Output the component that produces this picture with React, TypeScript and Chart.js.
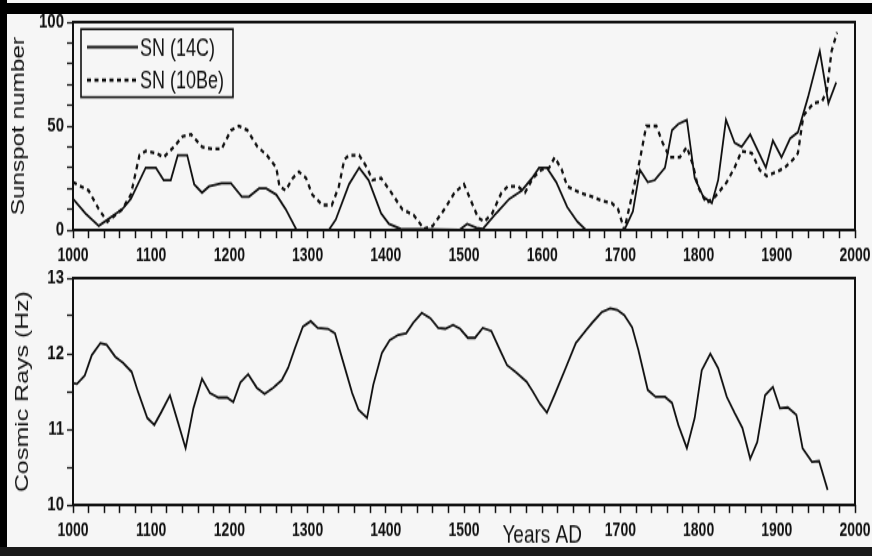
import React, { useEffect, useRef } from 'react';
import { Chart, registerables } from 'chart.js';

Chart.register(...registerables);

// ---------- data ----------
const sn14cYears = [1000, 1016, 1033, 1063, 1074, 1093, 1106, 1116, 1125, 1134, 1146, 1155, 1165, 1174, 1190, 1202, 1216, 1225, 1238, 1247, 1260, 1272, 1286, 1327, 1336, 1353, 1366, 1378, 1394, 1404, 1419, 1494, 1504, 1516, 1524, 1541, 1558, 1574, 1587, 1596, 1606, 1618, 1632, 1645, 1656, 1705, 1716, 1725, 1735, 1744, 1757, 1766, 1774, 1785, 1795, 1806, 1817, 1825, 1835, 1846, 1855, 1866, 1876, 1886, 1895, 1906, 1917, 1927, 1940, 1955, 1966, 1976];
const sn14cValues = [15, 8, 2, 10, 15, 30, 30, 24, 24, 36, 36, 22, 18, 21, 22.5, 22.5, 16, 16, 20, 20, 17, 10, 0, 0, 5, 22, 30, 24, 8, 3, 0.5, 0, 3, 1, 0.5, 8, 15, 19, 25, 30, 30, 23, 11, 4, 0, 0, 9, 29, 23, 24, 30, 48, 51, 53, 25, 16, 13, 24, 53, 42, 40, 46, 38, 30, 43, 35, 44, 47, 64, 86, 61, 71];

const sn10beYears = [1000, 1020, 1033, 1044, 1063, 1074, 1085, 1093, 1106, 1116, 1129, 1140, 1151, 1165, 1178, 1190, 1202, 1212, 1223, 1236, 1248, 1260, 1264, 1272, 1281, 1289, 1298, 1306, 1319, 1331, 1340, 1347, 1353, 1366, 1376, 1383, 1394, 1407, 1421, 1436, 1449, 1460, 1475, 1488, 1500, 1509, 1518, 1526, 1536, 1548, 1556, 1569, 1578, 1588, 1599, 1609, 1616, 1625, 1632, 1648, 1664, 1677, 1689, 1697, 1705, 1725, 1733, 1746, 1754, 1763, 1776, 1785, 1793, 1799, 1810, 1821, 1836, 1846, 1855, 1868, 1878, 1887, 1900, 1910, 1921, 1927, 1934, 1947, 1958, 1964, 1970, 1977];
const sn10beValues = [23, 19, 10, 4, 10, 17, 36, 38, 37, 35, 40, 45, 46, 40, 39, 39, 48, 50, 48, 40, 36, 30, 21, 19, 25, 28, 25, 17, 12, 12, 21, 34, 36, 36, 30, 24, 25, 18, 10, 7, 0.5, 2, 10, 18, 22, 14, 6, 4, 8, 18, 21, 21, 18, 25, 29, 30, 35, 29, 21, 18, 16, 14, 13, 10, 0, 34, 50, 50, 42, 35, 35, 40, 31, 21, 13, 16, 23, 30, 38, 37, 29, 26, 28, 30, 34, 37, 55, 61, 62, 67, 86, 95];

const crYears = [1000, 1005, 1015, 1024, 1035, 1043, 1054, 1064, 1075, 1083, 1095, 1104, 1113, 1124, 1134, 1144, 1154, 1165, 1175, 1186, 1197, 1205, 1214, 1224, 1235, 1245, 1256, 1267, 1275, 1284, 1294, 1304, 1313, 1326, 1335, 1343, 1357, 1365, 1376, 1384, 1395, 1405, 1416, 1426, 1435, 1446, 1457, 1467, 1476, 1486, 1495, 1505, 1514, 1524, 1535, 1546, 1555, 1567, 1580, 1588, 1597, 1606, 1616, 1630, 1643, 1656, 1664, 1676, 1687, 1696, 1705, 1715, 1723, 1735, 1745, 1757, 1766, 1774, 1785, 1795, 1804, 1815, 1825, 1836, 1846, 1856, 1866, 1875, 1885, 1895, 1904, 1914, 1925, 1933, 1945, 1954, 1965];
const crValues = [11.61, 11.6, 11.71, 11.98, 12.14, 12.12, 11.96, 11.88, 11.76, 11.5, 11.15, 11.06, 11.23, 11.45, 11.1, 10.75, 11.28, 11.67, 11.48, 11.42, 11.42, 11.36, 11.62, 11.73, 11.55, 11.47, 11.55, 11.65, 11.81, 12.08, 12.36, 12.43, 12.34, 12.33, 12.27, 11.98, 11.48, 11.26, 11.15, 11.59, 12.01, 12.18, 12.25, 12.27, 12.41, 12.54, 12.47, 12.34, 12.33, 12.38, 12.33, 12.21, 12.21, 12.34, 12.3, 12.05, 11.85, 11.75, 11.63, 11.5, 11.34, 11.22, 11.46, 11.81, 12.14, 12.31, 12.41, 12.55, 12.6, 12.58, 12.51, 12.35, 12.05, 11.52, 11.43, 11.43, 11.35, 11.06, 10.75, 11.15, 11.78, 12.0, 11.81, 11.43, 11.22, 11.02, 10.61, 10.83, 11.45, 11.56, 11.28, 11.29, 11.19, 10.75, 10.57, 10.58, 10.2];

const seriesLabels = ['SN (14C)', 'SN (10Be)'];
const xLabelYears = [1000, 1100, 1200, 1300, 1400, 1500, 1600, 1700, 1800, 1900, 2000];
const sunspotLabelTicks = [0, 50, 100];
const cosmicLabelTicks = [10, 11, 12, 13];
const xTitleText = 'Years AD';
const xTitleAt = 1600;
const topYTitle = 'Sunspot number';
const bottomYTitle = 'Cosmic Rays (Hz)';

// ---------- styles ----------
const INK = '#111111';
const BG = '#f6f6f6';
const SANS = "'Liberation Sans', Arial, Helvetica, sans-serif";
const DASH = [4, 3.5];
const STRETCH = 1.35; // the reference is drawn vertically stretched

const toPoints = (xs: number[], ys: number[]) => xs.map((x, i) => ({ x, y: ys[i] }));

const framePlugin = {
  id: 'frame',
  afterDatasetsDraw(chart: any) {
    const { ctx, chartArea } = chart;
    const { left, right, top, bottom } = chartArea;
    ctx.save();
    ctx.strokeStyle = INK;
    ctx.lineCap = 'butt';
    ctx.lineWidth = 2.2;
    ctx.beginPath();
    ctx.moveTo(left - 1, top);
    ctx.lineTo(right + 1, top);
    ctx.moveTo(left - 1, bottom);
    ctx.lineTo(right + 1, bottom);
    ctx.stroke();
    ctx.lineWidth = 2;
    ctx.beginPath();
    ctx.moveTo(left, top);
    ctx.lineTo(left, bottom);
    ctx.moveTo(right, top);
    ctx.lineTo(right, bottom);
    ctx.stroke();
    ctx.restore();
  },
};

const boxLegendPlugin = {
  id: 'boxLegend',
  afterDraw(chart: any) {
    const { ctx, chartArea } = chart;
    const { left, top } = chartArea;
    const bx = left + 8;
    const by = top + 5.2;
    const bw = 152;
    const bh = 50.4;
    ctx.save();
    ctx.fillStyle = BG;
    ctx.fillRect(bx, by, bw, bh);
    ctx.strokeStyle = INK;
    ctx.lineWidth = 1.6;
    ctx.strokeRect(bx, by, bw, bh);
    const rows = [top + 18.5, top + 43];
    chart.data.datasets.forEach((ds: any, i: number) => {
      const y = rows[i];
      ctx.beginPath();
      ctx.setLineDash(ds.borderDash || []);
      ctx.lineWidth = ds.borderWidth;
      ctx.strokeStyle = INK;
      ctx.moveTo(left + 14, y);
      ctx.lineTo(left + 65, y);
      ctx.stroke();
      ctx.setLineDash([]);
      ctx.fillStyle = INK;
      ctx.font = `18px ${SANS}`;
      ctx.textBaseline = 'middle';
      ctx.textAlign = 'left';
      ctx.fillText(ds.label, left + 67, y + 1.2);
    });
    ctx.restore();
  },
};

function xScale(height: number, withTitle: boolean) {
  return {
    type: 'linear',
    min: 1000,
    max: 2000,
    afterFit: (s: any) => {
      s.height = height;
      s.paddingLeft = 0;
      s.paddingRight = 0;
    },
    border: { display: false },
    grid: { drawOnChartArea: false, drawTicks: true, tickLength: 6, tickWidth: 1.5, tickColor: INK },
    ticks: {
      stepSize: 20,
      autoSkip: false,
      maxRotation: 0,
      minRotation: 0,
      padding: 5,
      color: INK,
      font: (c: any) =>
        withTitle && c.tick && c.tick.value === xTitleAt
          ? { family: SANS, size: 19 }
          : { family: SANS, size: 14, weight: 'bold' },
      callback: (v: any) => {
        const n = Number(v);
        if (withTitle && n === xTitleAt) return xTitleText;
        return xLabelYears.includes(n) ? String(n) : '';
      },
    },
  };
}

function yScale(min: number, max: number, step: number, labels: number[], title: string, titleSize: number, titlePad: number) {
  return {
    type: 'linear',
    min,
    max,
    afterFit: (s: any) => {
      s.width = 66;
      s.paddingTop = 0;
      s.paddingBottom = 0;
    },
    border: { display: false },
    grid: { drawOnChartArea: false, drawTicks: true, tickLength: 6, tickWidth: 1.3, tickColor: INK },
    ticks: {
      stepSize: step,
      autoSkip: false,
      padding: 3,
      color: INK,
      font: { family: SANS, size: 15, weight: 'bold' },
      callback: (v: any) => (labels.includes(Number(v)) ? String(v) : ''),
    },
    title: {
      display: true,
      text: title,
      color: INK,
      font: { family: SANS, size: titleSize },
      padding: { top: titlePad, bottom: 0 },
    },
  };
}

const baseOptions = (x: any, y: any) => ({
  animation: false,
  responsive: false,
  maintainAspectRatio: false,
  layout: { padding: { top: 6, right: 17, left: 0, bottom: 0 } },
  plugins: { legend: { display: false }, tooltip: { enabled: false } },
  scales: { x, y },
});

export default function App() {
  const topRef = useRef<HTMLCanvasElement | null>(null);
  const botRef = useRef<HTMLCanvasElement | null>(null);

  useEffect(() => {
    const top = new Chart(topRef.current as HTMLCanvasElement, {
      type: 'line',
      data: {
        datasets: [
          {
            label: seriesLabels[0],
            data: toPoints(sn14cYears, sn14cValues),
            borderColor: INK,
            borderWidth: 1.8,
            pointRadius: 0,
            tension: 0,
            fill: false,
          },
          {
            label: seriesLabels[1],
            data: toPoints(sn10beYears, sn10beValues),
            borderColor: INK,
            borderWidth: 2.3,
            borderDash: DASH,
            pointRadius: 0,
            tension: 0,
            fill: false,
          },
        ],
      },
      options: baseOptions(
        xScale(30, false),
        yScale(0, 100, 10, sunspotLabelTicks, topYTitle, 18, 1)
      ) as any,
      plugins: [framePlugin, boxLegendPlugin],
    });

    const bottom = new Chart(botRef.current as HTMLCanvasElement, {
      type: 'line',
      data: {
        datasets: [
          {
            label: bottomYTitle,
            data: toPoints(crYears, crValues),
            borderColor: INK,
            borderWidth: 1.8,
            pointRadius: 0,
            tension: 0,
            fill: false,
          },
        ],
      },
      options: baseOptions(
        xScale(31, true),
        yScale(10, 13, 0.5, cosmicLabelTicks, bottomYTitle, 18.5, 5)
      ) as any,
      plugins: [framePlugin],
    });

    return () => {
      top.destroy();
      bottom.destroy();
    };
  }, []);

  const wrap = (left: number, topPx: number, h: number): React.CSSProperties => ({
    position: 'absolute',
    left,
    top: topPx,
    width: 865,
    height: h,
    transform: `scaleY(${STRETCH})`,
    transformOrigin: 'top left',
  });

  return (
    <div style={{ position: 'absolute', left: 0, top: 0, width: 872, height: 556, background: BG, overflow: 'hidden' }}>
      <div style={wrap(7, 14, 190)}>
        <canvas ref={topRef} width={865} height={190} style={{ display: 'block', width: 865, height: 190 }} />
      </div>
      <div style={wrap(7, 270, 205)}>
        <canvas ref={botRef} width={865} height={205} style={{ display: 'block', width: 865, height: 205 }} />
      </div>
      <div style={{ position: 'absolute', left: 0, top: 3, width: 872, height: 11, background: '#000' }} />
      <div style={{ position: 'absolute', left: 0, top: 0, width: 7, height: 556, background: '#000' }} />
      <div style={{ position: 'absolute', left: 0, top: 547, width: 872, height: 9, background: '#1a1a1a' }} />
    </div>
  );
}
